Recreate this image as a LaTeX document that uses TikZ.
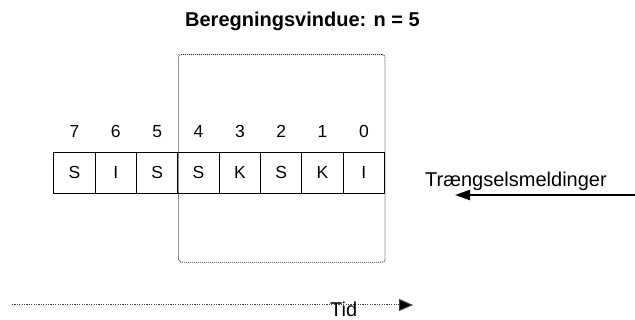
\documentclass[tikz,border=0pt]{standalone}
\usepackage{fontspec}
\setmainfont{Liberation Sans}
\usetikzlibrary{arrows.meta}
\begin{document}
\begin{tikzpicture}[x=1pt,y=-1pt,
  cellbox/.style={draw, line width=1pt, minimum width=41.35pt, minimum height=41.3pt, inner sep=0pt, font=\fontsize{17.5}{20}\selectfont},
  idxlabel/.style={anchor=base, inner sep=0pt, font=\fontsize{17.5}{20}\selectfont},
  biglabel/.style={inner sep=0pt, font=\fontsize{20}{24}\selectfont},
  winbox/.style={draw=black!85, line width=0.8pt, dash pattern=on 1pt off 1pt, rounded corners=3pt, minimum width=206.5pt, minimum height=207.7pt, inner sep=0pt},
  timeline/.style={draw=black!75, line width=1pt, dash pattern=on 1.2pt off 1.2pt, -{Triangle[length=14pt,width=12pt,fill=black]}},
  msgarrow/.style={draw, line width=2pt, -{Triangle[length=15pt,width=10pt]}}
]
\useasboundingbox (0,0) rectangle (635,320);
\fill[white] (0,0) rectangle (635,320);

% title
\node[anchor=base, inner sep=0pt, font=\bfseries\fontsize{20}{24}\selectfont] (title) at (302.5,26.7) {Beregningsvindue: n = 5};

% window
\node[winbox] (win) at (281.75,158.35) {};

% cells
\foreach \lab/\txt [count=\k from 0] in {7/S,6/I,5/S,4/S,3/K,2/S,1/K,0/I} {
  \node[cellbox] (c\lab) at ({53.8+41.35*(\k+0.5)},172.7) {\txt};
  \node[idxlabel] (n\lab) at ({53.8+41.35*(\k+0.5)},137.3) {\lab};
}

% messages arrow
\node[biglabel, anchor=base west] (msg) at (425,186.7) {Trængselsmeldinger};
\coordinate (msgsrc) at (635,195);
\coordinate (msgdst) at (455,195);
\draw[msgarrow] (msgsrc) -- (msgdst);

% time axis
\coordinate (t0) at (12,305);
\coordinate (t1) at (413,305);
\draw[timeline] (t0) -- (t1);
\node[biglabel, anchor=base west] (tid) at (330,316.7) {Tid};
\end{tikzpicture}
\end{document}
